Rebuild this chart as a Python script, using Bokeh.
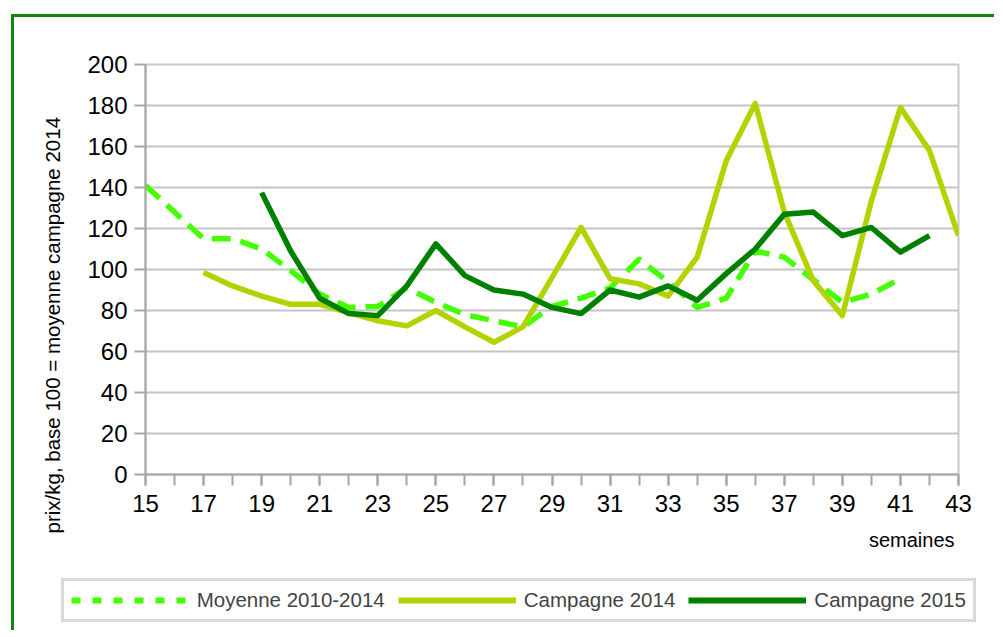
from bokeh.plotting import figure
from bokeh.layouts import column
from bokeh.models import (ColumnDataSource, FixedTicker, Legend, LegendItem, Range1d, Title)
from bokeh.embed import file_html
from bokeh.resources import INLINE

# ---- data ----
weeks_moy = list(range(15, 42))
moyenne = [141, 128, 115, 115, 110, 99.5, 88, 81.5, 82, 91, 84, 78, 75, 72, 82, 86,
           91, 105, 94, 81.5, 86, 109, 106, 95, 84, 88, 95.5]
weeks_2014 = list(range(17, 44))
campagne_2014 = [98.5, 92, 87, 83, 83, 79, 75, 72.5, 80, 72, 64.5, 72, 96, 120.5, 95.5,
                 93, 87, 106, 153, 181, 128, 94.5, 77.5, 133.5, 179, 158, 116.5]
weeks_2015 = list(range(19, 43))
campagne_2015 = [137.5, 109, 86, 78.5, 77.5, 92, 112.5, 97, 90, 88, 81.5, 78.5, 90, 86.5,
                 92, 85, 98, 110, 127, 128, 116.5, 120.5, 108.5, 116.5]

x_labels = list(range(15, 44, 2))
x_minor = list(range(15, 44))
y_ticks = list(range(0, 201, 20))
series_names = ["Moyenne 2010-2014", "Campagne 2014", "Campagne 2015"]
colors = ["#44ff00", "#b3d300", "#008000"]
y_title = "prix/kg, base 100 = moyenne campagne 2014"
x_title = "semaines"

FONT = "Liberation Sans"
LW = 5.5

W, H1, H2 = 980, 553, 60
p = figure(width=W, height=H1, output_backend="svg", toolbar_location=None,
           x_range=Range1d(15, 43), y_range=Range1d(0, 200),
           min_border_left=131, min_border_right=36, min_border_top=47, min_border_bottom=96,
           frame_width=813, frame_height=410)

p.background_fill_color = "white"
p.border_fill_color = "white"
p.outline_line_color = "#c8c8c8"
p.outline_line_width = 2

# grid
p.xgrid.visible = False
p.ygrid.grid_line_color = "#c3c3c3"
p.ygrid.grid_line_width = 2
p.ygrid.ticker = FixedTicker(ticks=y_ticks)

# axes
for ax in (p.xaxis[0], p.yaxis[0]):
    ax.axis_line_color = "#a6a6a6"
    ax.axis_line_width = 2
    ax.major_tick_line_color = "#a6a6a6"
    ax.major_tick_line_width = 2
    ax.minor_tick_line_color = "#a6a6a6"
    ax.minor_tick_line_width = 2
    ax.major_tick_in = 0
    ax.minor_tick_in = 0
    ax.major_label_text_font = FONT
    ax.major_label_text_font_size = "24px"
    ax.major_label_text_color = "black"

p.xaxis.ticker = FixedTicker(ticks=x_labels, minor_ticks=x_minor)
p.xaxis.major_tick_out = 11
p.xaxis.minor_tick_out = 11
p.xaxis.major_label_standoff = 9

p.yaxis.ticker = FixedTicker(ticks=y_ticks)
p.yaxis.major_tick_out = 11
p.yaxis.minor_tick_out = 0
p.yaxis.major_label_standoff = 7

# y title: starts below the frame bottom in the reference
p.add_layout(Title(text=y_title, align="left", offset=-59, standoff=42,
                   text_font=FONT, text_font_size="20.5px", text_font_style="normal",
                   text_color="black"), "left")
# x title: right-aligned under the axis
p.add_layout(Title(text=x_title, align="right", offset=4, standoff=24,
                   text_font=FONT, text_font_size="20px", text_font_style="normal",
                   text_color="black"), "below")

# lines
src_m = ColumnDataSource(dict(x=weeks_moy, y=moyenne))
src_a = ColumnDataSource(dict(x=weeks_2014, y=campagne_2014))
src_b = ColumnDataSource(dict(x=weeks_2015, y=campagne_2015))

p.line("x", "y", source=src_m, line_color=colors[0], line_width=LW, line_dash="19 10",
       line_join="round")
p.line("x", "y", source=src_a, line_color=colors[1], line_width=LW, line_join="round")
p.line("x", "y", source=src_b, line_color=colors[2], line_width=LW, line_join="round")

# ---- legend strip (its own canvas so that nothing clips it) ----
lf = figure(width=W, height=H2, output_backend="svg", toolbar_location=None,
            x_range=Range1d(0, 1), y_range=Range1d(0, 1),
            x_axis_location=None, y_axis_location=None,
            min_border_left=40, min_border_right=10, min_border_top=0, min_border_bottom=0,
            frame_width=930, frame_height=H2)
lf.grid.visible = False
lf.outline_line_color = None
lf.background_fill_color = "white"
lf.border_fill_color = "white"

# swatch renderers (their points lie outside the strip's range, only the legend shows them)
off = dict(x=[-5, -4], y=[-5, -5])
g_m = lf.line(off["x"], off["y"], line_color=colors[0], line_width=6, line_dash="9 12")
g_a = lf.line(off["x"], off["y"], line_color=colors[1], line_width=6)
g_b = lf.line(off["x"], off["y"], line_color=colors[2], line_width=6)
legend = Legend(items=[LegendItem(label=series_names[0], renderers=[g_m]),
                       LegendItem(label=series_names[1], renderers=[g_a]),
                       LegendItem(label=series_names[2], renderers=[g_b])],
                orientation="horizontal", location=(30, 8),
                glyph_width=118, glyph_height=20, label_height=20,
                label_standoff=8, spacing=13, padding=7, margin=0,
                label_text_font=FONT, label_text_font_size="20.5px",
                border_line_color="#b4b4b4", border_line_width=3,
                background_fill_color="white", background_fill_alpha=1)
lf.add_layout(legend, "center")

layout = column(p, lf, spacing=0)
layout.margin = (14, 0, 0, 11)
layout.styles = {"border-top": "3px solid #108810", "border-left": "3px solid #108810"}

open("out.html", "w").write(file_html(layout, INLINE))
